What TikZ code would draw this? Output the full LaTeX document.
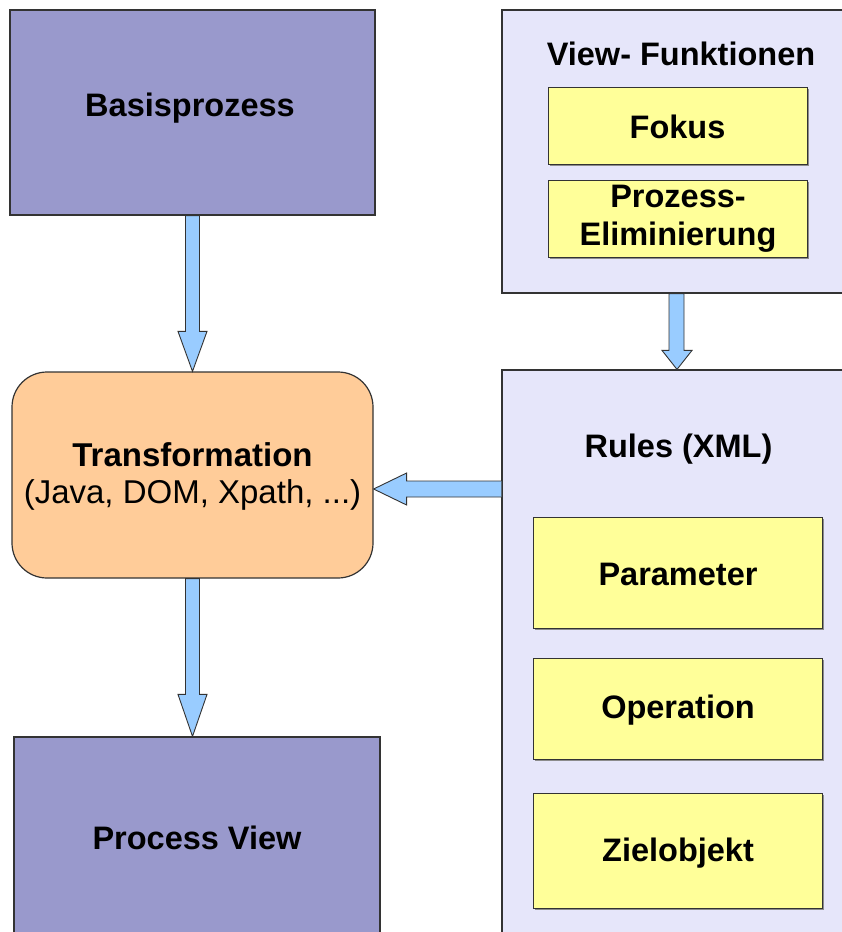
\documentclass[tikz,border=0pt]{standalone}
\usepackage{fontspec}
\setmainfont{Liberation Sans}
\usepackage{tikz}
\usetikzlibrary{calc,shadows}
\definecolor{basisblue}{HTML}{9999CC}
\definecolor{transorange}{HTML}{FFCC99}
\definecolor{rulelav}{HTML}{E6E6FA}
\definecolor{itemyellow}{HTML}{FFFF99}
\definecolor{arrowblue}{HTML}{99CCFF}
\definecolor{edgegray}{HTML}{333333}
\tikzstyle{bigbox}=[draw=edgegray, line width=1.2pt, inner sep=0pt]
\tikzstyle{procbox}=[bigbox, fill=basisblue]
\tikzstyle{transbox}=[bigbox, fill=transorange, rounded corners=35pt]
\tikzstyle{rulebox}=[bigbox, fill=rulelav]
\tikzstyle{itembox}=[draw=edgegray, line width=0.8pt, fill=itemyellow, inner sep=0pt,
                drop shadow={shadow xshift=1.5pt, shadow yshift=-1.5pt, fill=black!45, opacity=1}]
\tikzstyle{fatarrow}=[draw=edgegray, line width=0.9pt, fill=arrowblue, line join=miter]
\tikzstyle{lbl}=[font=\fontsize{32.5}{38}\selectfont\bfseries, align=center]

\begin{document}
\begin{tikzpicture}[x=1pt, y=-1pt]
\useasboundingbox (0,0) rectangle (842,932);
\clip (0,0) rectangle (842,932);

% left column
\node[procbox, minimum width=365pt, minimum height=205pt] at (192.5,112.5) (basis) {};
\node[lbl] at (190,108) {Basisprozess};
\node[transbox, minimum width=361pt, minimum height=206pt] at (192.5,475) (trans) {};
\node[align=center, font=\fontsize{33}{37}\selectfont] at (192.5,476)
  {\textbf{Transformation}\\(Java, DOM, Xpath, ...)};
\node[procbox, minimum width=366pt, minimum height=210pt] at (197,842) (pview) {};
\node[lbl] at (197,838) {Process View};

% right column
\node[rulebox, minimum width=350pt, minimum height=283pt] at (677,151.5) (viewfn) {};
\node[lbl] at (681,54) {View- Funktionen};
\node[itembox, minimum width=259pt, minimum height=77pt] at (677.5,125.5) (fokus) {};
\node[lbl] at (677.5,127) {Fokus};
\node[itembox, minimum width=259pt, minimum height=77pt] at (677.5,218.5) (elim) {};
\node[lbl] at (678,219) {Prozess-\\Eliminierung};

\node[rulebox, minimum width=350pt, minimum height=590pt] at (677,665) (rules) {};
\node[lbl] at (678.5,449) {Rules (XML)};
\node[itembox, minimum width=289pt, minimum height=111pt] at (677.5,572.5) (param) {};
\node[lbl] at (678,574) {Parameter};
\node[itembox, minimum width=289pt, minimum height=101pt] at (677.5,708.5) (oper) {};
\node[lbl] at (678,710) {Operation};
\node[itembox, minimum width=289pt, minimum height=115pt] at (677.5,851) (ziel) {};
\node[lbl] at (678,853) {Zielobjekt};

% block arrows
\draw[fatarrow] ($(basis.south)+(-7,0)$) -- ($(trans.north)+(-7,-40)$) -- ($(trans.north)+(-14.5,-40)$)
  -- (trans.north) -- ($(trans.north)+(14.5,-40)$) -- ($(trans.north)+(7,-40)$)
  -- ($(basis.south)+(7,0)$) -- cycle;
\draw[fatarrow] ($(trans.south)+(-7,0)$) -- ($(trans.south |- pview.north)+(-7,-42)$)
  -- ($(trans.south |- pview.north)+(-14.5,-42)$) -- (trans.south |- pview.north)
  -- ($(trans.south |- pview.north)+(14.5,-42)$) -- ($(trans.south |- pview.north)+(7,-42)$)
  -- ($(trans.south)+(7,0)$) -- cycle;
\draw[fatarrow] ($(viewfn.south)+(-8,0)$) -- ($(viewfn.south |- rules.north)+(-8,-19)$)
  -- ($(viewfn.south |- rules.north)+(-15,-19)$) -- (viewfn.south |- rules.north)
  -- ($(viewfn.south |- rules.north)+(15,-19)$) -- ($(viewfn.south |- rules.north)+(7,-19)$)
  -- ($(viewfn.south)+(7,0)$) -- cycle;
\coordinate (tip) at ($(trans.east)+(0,14)$);
\draw[fatarrow] (rules.west |- tip) ++(0,-8) -- ($(tip)+(33,-8)$) -- ($(tip)+(33,-16)$)
  -- (tip) -- ($(tip)+(33,16)$) -- ($(tip)+(33,8)$) -- ($(rules.west |- tip)+(0,8)$);
\end{tikzpicture}
\end{document}
